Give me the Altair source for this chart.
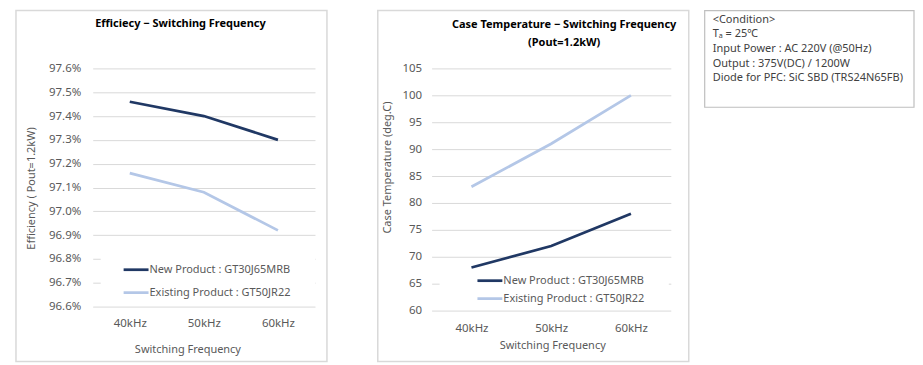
import altair as alt
import pandas as pd

# ---------------- data ----------------
freqs = ["40kHz", "50kHz", "60kHz"]
series_names = ["New Product : GT30J65MRB", "Existing Product : GT50JR22"]
series_colors = ["#203864", "#b4c7e7"]

eff_new = [97.46, 97.40, 97.30]
eff_existing = [97.16, 97.08, 96.92]
temp_new = [68, 72, 78]
temp_existing = [83, 91, 100]

eff_ticks = [96.6, 96.7, 96.8, 96.9, 97.0, 97.1, 97.2, 97.3, 97.4, 97.5, 97.6]
temp_ticks = [60, 65, 70, 75, 80, 85, 90, 95, 100, 105]

eff_title = ["Efficiecy \u2212 Switching Frequency"]
temp_title = ["Case Temperature \u2212 Switching Frequency", "(Pout=1.2kW)"]
eff_ytitle = "Efficiency ( Pout=1.2kW)"
temp_ytitle = "Case Temperature (deg.C)"
xtitle = "Switching Frequency"

condition_lines = [
    "<Condition>",
    "T\u2090 = 25\u2103",
    "Input Power : AC 220V (@50Hz)",
    "Output :  375V(DC) / 1200W",
    "Diode for PFC: SiC SBD (TRS24N65FB)",
]

FONT = "Noto Sans"
GRID = "#d9d9d9"
LABEL = "#595959"


def long_df(new_vals, old_vals):
    rows = []
    for name, vals in zip(series_names, [new_vals, old_vals]):
        for f, v in zip(freqs, vals):
            rows.append({"freq": f, "series": name, "value": v})
    return pd.DataFrame(rows)


color_scale = alt.Scale(domain=series_names, range=series_colors)
one = pd.DataFrame({"k": [0]})


def panel(df, domain, ticks, label_expr, ytitle, title_lines, width, height,
          ylabel_pad, xlabel_pad, ytitle_pos, xtitle_pos, title_pos,
          border, legend_box, legend_x, legend_y, extra=None):
    layers = []
    # panel border
    layers.append(
        alt.Chart(one).mark_rect(fillOpacity=0, stroke=GRID, strokeWidth=1.5).encode(
            x=alt.value(border[0]), x2=alt.value(border[1]),
            y=alt.value(border[2]), y2=alt.value(border[3]))
    )
    # data lines
    layers.append(
        alt.Chart(df).mark_line(strokeWidth=2.75, interpolate="linear").encode(
            x=alt.X("freq:N", sort=freqs,
                    scale=alt.Scale(type="point", padding=0.5),
                    axis=alt.Axis(title=xtitle, labelAngle=0, grid=False,
                                  labelPadding=xlabel_pad,
                                  titleX=xtitle_pos[0], titleY=xtitle_pos[1],
                                  titleBaseline="middle", titleAlign="center")),
            y=alt.Y("value:Q",
                    scale=alt.Scale(domain=domain, nice=False, zero=False),
                    axis=alt.Axis(title=ytitle, values=ticks, labelExpr=label_expr,
                                  labelPadding=ylabel_pad,
                                  titleX=ytitle_pos[0], titleY=ytitle_pos[1],
                                  titleBaseline="middle", titleAlign="center")),
            color=alt.Color("series:N", scale=color_scale, legend=None),
        )
    )
    # white background of in-plot legend
    layers.append(
        alt.Chart(one).mark_rect(fill="white").encode(
            x=alt.value(legend_box[0]), x2=alt.value(legend_box[1]),
            y=alt.value(legend_box[2]), y2=alt.value(legend_box[3]))
    )
    # legend entries
    for i, name in enumerate(series_names):
        ldf = pd.DataFrame({"series": [name]})
        ly = legend_y[i]
        layers.append(
            alt.Chart(ldf).mark_rule(strokeWidth=2.75).encode(
                x=alt.value(legend_x[0]), x2=alt.value(legend_x[1]), y=alt.value(ly),
                color=alt.Color("series:N", scale=color_scale, legend=None))
        )
        layers.append(
            alt.Chart(ldf).mark_text(align="left", baseline="middle", font=FONT,
                                     fontSize=11, color=LABEL, dx=1).encode(
                x=alt.value(legend_x[1]), y=alt.value(ly), text="series:N")
        )
    # chart title lines
    for i, t in enumerate(title_lines):
        tdf = pd.DataFrame({"t": [t]})
        layers.append(
            alt.Chart(tdf).mark_text(align="center", baseline="middle", font=FONT,
                                     fontSize=11, fontWeight="bold", color="#000000").encode(
                x=alt.value(title_pos[0]), y=alt.value(title_pos[1] + 19 * i), text="t:N")
        )
    if extra:
        layers.extend(extra)
    return alt.layer(*layers).properties(width=width, height=height)


eff_chart = panel(
    long_df(eff_new, eff_existing), [96.6, 97.6], eff_ticks,
    "format(datum.value, '.1f') + '%'", eff_ytitle, eff_title,
    width=223, height=239, ylabel_pad=12, xlabel_pad=11,
    ytitle_pos=(-61, 120), xtitle_pos=(95, 43), title_pos=(88, -45),
    border=(-77, 235, -58, 294), legend_box=(8, 223, 188, 231),
    legend_x=(31, 56), legend_y=(202, 225),
)

# condition box (annotation placed next to the second panel)
cond_layers = [
    alt.Chart(one).mark_rect(fillOpacity=0, stroke="#bfbfbf", strokeWidth=1.2).encode(
        x=alt.value(274), x2=alt.value(484), y=alt.value(-58), y2=alt.value(39))
]
for i, line in enumerate(condition_lines):
    cdf = pd.DataFrame({"t": [line]})
    cond_layers.append(
        alt.Chart(cdf).mark_text(align="left", baseline="middle", font=FONT,
                                 fontSize=11, color="#404040").encode(
            x=alt.value(282), y=alt.value(-49 + 14.75 * i), text="t:N")
    )

temp_chart = panel(
    long_df(temp_new, temp_existing), [60, 105], temp_ticks,
    "format(datum.value, 'd')", temp_ytitle, temp_title,
    width=240, height=243, ylabel_pad=10, xlabel_pad=12,
    ytitle_pos=(-44, 99), xtitle_pos=(121, 35), title_pos=(133, -44),
    border=(-54, 258, -58, 294), legend_box=(8, 238, 204, 240),
    legend_x=(46, 71), legend_y=(213, 231), extra=cond_layers,
)

chart = alt.hconcat(eff_chart, temp_chart, spacing=117, bounds="flush").properties(
    padding={"left": 7, "top": 1, "right": 0, "bottom": 0}
).configure_view(stroke=None).configure_axis(
    domain=False, ticks=False, gridColor=GRID, gridWidth=1,
    labelFont=FONT, labelFontSize=11.5, labelColor=LABEL,
    titleFont=FONT, titleFontSize=11, titleColor=LABEL, titleFontWeight="normal",
)

chart.save("out.html", embed_options={"renderer": "svg", "actions": False})
